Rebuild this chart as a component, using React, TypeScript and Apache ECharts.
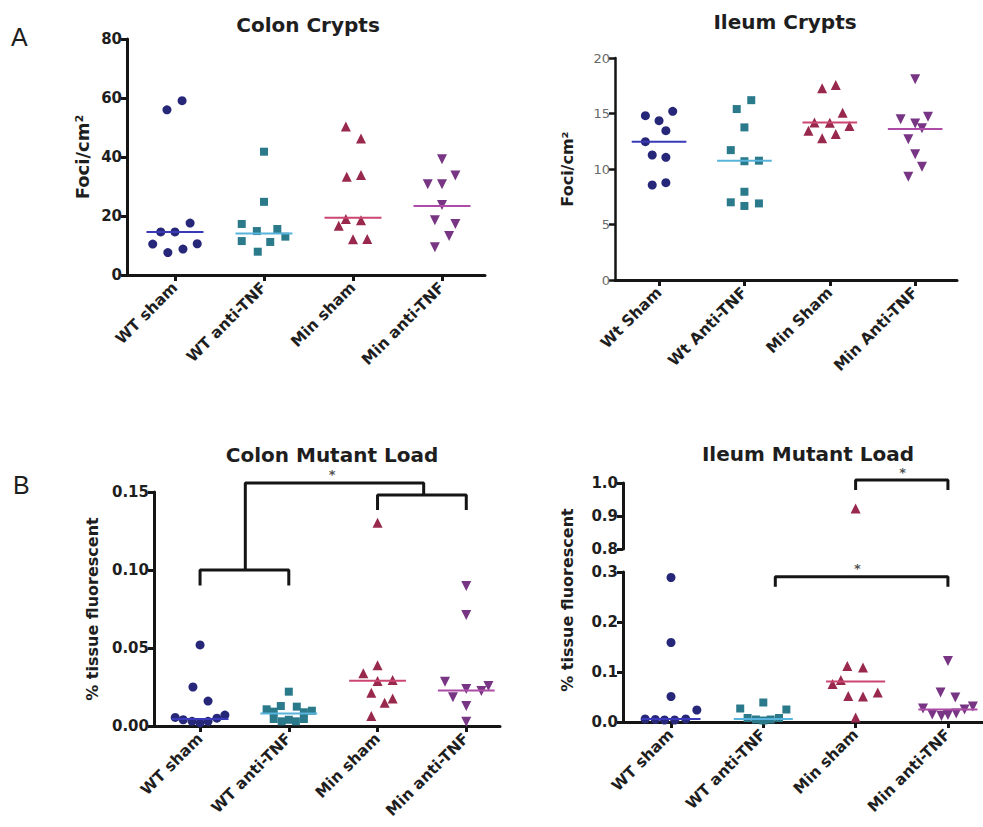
import React, { useEffect, useRef } from 'react';
import * as echarts from 'echarts';

// ---------- categories ----------
const colonGroups = ['WT sham', 'WT anti-TNF', 'Min sham', 'Min anti-TNF'];
const ileumCryptGroups = ['Wt Sham', 'Wt Anti-TNF', 'Min Sham', 'Min Anti-TNF'];

// ---------- Colon Crypts (Foci/cm2) ----------
const colonCryptValues = [
  [56, 59.1, 17.6, 14.6, 14.6, 10.5, 10.6, 7.6, 8.8],
  [41.8, 24.8, 17.3, 14.9, 15.6, 11.5, 11.2, 13.0, 7.9],
  [50.3, 46.3, 33.3, 33.9, 19.0, 18.6, 16.7, 12.1, 12.2],
  [39.2, 30.8, 30.8, 33.7, 23.7, 18.6, 17.3, 13.2, 9.4],
];
const colonCryptJitter = [
  [-0.09, 0.08, 0.17, -0.16, 0, -0.25, 0.25, -0.08, 0.09],
  [0, 0, -0.25, -0.08, 0.15, -0.25, 0.07, 0.24, -0.07],
  [-0.08, 0.09, -0.07, 0.09, -0.08, 0.09, -0.16, 0, 0.16],
  [0, -0.16, 0, 0.15, 0, -0.08, 0.15, 0.08, -0.08],
];
const colonCryptMedians = [14.6, 14.1, 19.4, 23.4];

// ---------- Ileum Crypts (Foci/cm2) ----------
const ileumCryptValues = [
  [14.8, 14.35, 15.2, 13.45, 12.46, 11.26, 11.05, 8.56, 8.77],
  [16.2, 15.4, 13.75, 11.7, 10.7, 10.75, 7.95, 7.0, 6.67, 6.9],
  [17.27, 17.57, 15.07, 14.2, 14.17, 13.87, 13.45, 12.76, 13.15],
  [18.08, 14.48, 14.7, 14.1, 13.66, 12.67, 11.32, 10.2, 9.3],
];
const ileumCryptJitter = [
  [-0.16, 0, 0.16, 0.08, -0.16, -0.08, 0.08, -0.08, 0.08],
  [0.08, -0.09, 0, -0.16, 0, 0.17, 0, -0.16, 0, 0.17],
  [-0.09, 0.07, 0.15, -0.18, 0, 0.23, -0.25, -0.09, 0.07],
  [0, -0.17, 0.15, 0, 0.08, -0.08, 0, 0.08, -0.08],
];
const ileumCryptMedians = [12.46, 10.75, 14.2, 13.6];

// ---------- Colon Mutant Load (% tissue fluorescent) ----------
const colonLoadValues = [
  [0.052, 0.025, 0.016, 0.0055, 0.004, 0.003, 0.002, 0.003, 0.005, 0.007],
  [0.022, 0.0128, 0.0124, 0.0107, 0.0098, 0.0092, 0.0088, 0.0045, 0.004, 0.0045, 0.003, 0.003],
  [0.1303, 0.039, 0.0338, 0.0288, 0.0295, 0.0213, 0.0177, 0.0149, 0.0064],
  [0.0897, 0.0712, 0.0284, 0.0237, 0.0224, 0.0256, 0.0184, 0.0128, 0.0028],
];
const colonLoadJitter = [
  [0, -0.08, 0.09, -0.28, -0.19, -0.09, 0, 0.09, 0.19, 0.28],
  [0, -0.09, 0.09, -0.25, 0.26, -0.17, 0.17, -0.17, 0, 0.17, -0.08, 0.08],
  [0, 0, -0.16, 0, 0.17, -0.07, 0.17, 0.08, -0.07],
  [0, 0, -0.24, 0, 0.17, 0.25, -0.15, 0, 0],
];
const colonLoadMedians = [0.0045, 0.008, 0.029, 0.0227];
const colonLoadBrackets = [
  [[1, 0.09], [1, 0.1], [2, 0.1], [2, 0.09]],
  [[1.51, 0.1], [1.51, 0.1558], [3.52, 0.1558], [3.52, 0.148]],
  [[3, 0.1385], [3, 0.148], [4, 0.148], [4, 0.1385]],
];
const colonLoadStars = [[2.49, 0.1558]];

// ---------- Ileum Mutant Load (% tissue fluorescent, broken axis) ----------
const ileumLoadValues = [
  [0.289, 0.159, 0.051, 0.024, 0.006, 0.005, 0.004, 0.004, 0.006],
  [0.039, 0.027, 0.025, 0.008, 0.005, 0.003, 0.005, 0.008],
  [0.923, 0.112, 0.109, 0.076, 0.084, 0.052, 0.051, 0.059, 0.009],
  [0.122, 0.059, 0.049, 0.027, 0.015, 0.012, 0.014, 0.017, 0.025, 0.031],
];
const ileumLoadJitter = [
  [0, 0, 0, 0.28, -0.28, -0.17, -0.07, 0.04, 0.16],
  [0, -0.25, 0.25, -0.17, -0.08, 0, 0.08, 0.17],
  [0, -0.09, 0.08, -0.25, -0.16, -0.08, 0.08, 0.24, 0],
  [0, -0.08, 0.08, -0.27, -0.17, -0.07, 0, 0.09, 0.18, 0.27],
];
const ileumLoadMedians = [0.006, 0.006, 0.081, 0.025];
const ileumLowerBrackets = [[[2.13, 0.2706], [2.13, 0.2906], [4, 0.2906], [4, 0.2706]]];
const ileumLowerStars = [[3.02, 0.2906]];
const ileumUpperBrackets = [[[3, 0.979], [3, 1.009], [4, 1.009], [4, 0.979]]];
const ileumUpperStars = [[3.51, 1.009]];

// ---------- styles ----------
const pointColors = ['#27277a', '#2a7a8c', '#98284c', '#773584'];
const medianColors = ['#3a3ab8', '#58b4da', '#cc4672', '#ac4ca6'];
const symbols = ['circle', 'rect', 'triangle', 'triangle'];
const symbolRotates = [0, 0, 0, 180];
const symbolSizes = [9, 8, 10, 10];
const FONT = 'DejaVu Sans';
const AXIS_COLOR = '#151515';

function groupSeries(values: number[][], jitter: number[][], medians: number[], xi: number, yi: number, keep: (v: number) => boolean, showMedian: boolean) {
  const out: any[] = [];
  values.forEach((vals, g) => {
    const data = vals
      .map((v, i) => [g + 1 + jitter[g][i], v])
      .filter((d) => keep(d[1]));
    out.push({
      type: 'scatter',
      xAxisIndex: xi,
      yAxisIndex: yi,
      symbol: symbols[g],
      symbolSize: symbolSizes[g],
      symbolRotate: symbolRotates[g],
      itemStyle: { color: pointColors[g], opacity: 1 },
      data,
      z: 2,
    });
  });
  if (showMedian) {
    medians.forEach((m, g) => {
      out.push({
        type: 'line',
        xAxisIndex: xi,
        yAxisIndex: yi,
        data: [[g + 1 - 0.32, m], [g + 1 + 0.32, m]],
        symbol: 'none',
        lineStyle: { color: medianColors[g], width: 2 },
        z: 3,
      });
    });
  }
  return out;
}

function bracketSeries(brackets: number[][][], stars: number[][], xi: number, yi: number) {
  const out: any[] = brackets.map((b) => ({
    type: 'line',
    xAxisIndex: xi,
    yAxisIndex: yi,
    data: b,
    symbol: 'none',
    clip: false,
    lineStyle: { color: AXIS_COLOR, width: 3 },
    z: 4,
  }));
  out.push({
    type: 'scatter',
    xAxisIndex: xi,
    yAxisIndex: yi,
    data: stars,
    symbolSize: 1,
    clip: false,
    itemStyle: { color: 'rgba(0,0,0,0)' },
    label: {
      show: true,
      formatter: '*',
      position: 'top',
      distance: 1,
      fontFamily: FONT,
      fontWeight: 'bold',
      fontSize: 13,
      color: '#222',
    },
    z: 5,
  });
  return out;
}

function xAxisFor(gridIndex: number, min: number, max: number, cats: string[], show = true) {
  return {
    type: 'value',
    gridIndex,
    min,
    max,
    show,
    splitLine: { show: false },
    axisLine: { show: true, onZero: false, lineStyle: { color: AXIS_COLOR, width: 3 } },
    axisTick: { show: true, customValues: [1, 2, 3, 4], length: 6, lineStyle: { color: AXIS_COLOR, width: 3 } },
    axisLabel: {
      customValues: [1, 2, 3, 4],
      rotate: 45,
      margin: 10,
      formatter: (v: number) => cats[Math.round(v) - 1] || '',
      fontFamily: FONT,
      fontWeight: 'bold',
      fontSize: 15.5,
      color: '#1e1e1e',
    },
  };
}

function yAxisFor(gridIndex: number, min: number, max: number, interval: number, digits: number, name: string, nameGap: number, opts: any = {}) {
  return {
    type: 'value',
    gridIndex,
    min,
    max,
    interval,
    name,
    nameLocation: 'middle',
    nameGap,
    nameTextStyle: { fontFamily: FONT, fontWeight: 'bold', fontSize: opts.nameSize || 16, color: '#1e1e1e' },
    splitLine: { show: false },
    axisLine: { show: true, onZero: false, lineStyle: { color: AXIS_COLOR, width: opts.lineWidth || 3 } },
    axisTick: { show: true, length: 6, lineStyle: { color: AXIS_COLOR, width: opts.lineWidth || 3 } },
    axisLabel: {
      margin: 5,
      formatter: (v: number) => v.toFixed(digits),
      fontFamily: FONT,
      fontWeight: opts.labelWeight || 'bold',
      fontSize: opts.labelSize || 15,
      color: opts.labelColor || '#1e1e1e',
    },
  };
}

export default function App() {
  const ref = useRef<HTMLDivElement>(null);

  useEffect(() => {
    if (!ref.current) return;
    const chart = echarts.init(ref.current, undefined, { renderer: 'svg' });

    const titleStyle = (text: string, x: number, y: number) => ({
      type: 'text',
      x,
      y,
      style: {
        text,
        fontFamily: FONT,
        fontWeight: 'bold',
        fontSize: 20,
        fill: '#1e1e1e',
        textAlign: 'center',
        textVerticalAlign: 'middle',
      },
    });

    const option: any = {
      animation: false,
      backgroundColor: '#ffffff',
      grid: [
        { left: 127, top: 39, width: 358, height: 236 },
        { left: 615, top: 58, width: 342, height: 222 },
        { left: 154, top: 492, width: 346, height: 234 },
        { left: 623, top: 572, width: 360, height: 150 },
        { left: 623, top: 483, width: 360, height: 66 },
      ],
      xAxis: [
        xAxisFor(0, 0.461, 4.483, colonGroups),
        xAxisFor(1, 0.484, 4.49, ileumCryptGroups),
        xAxisFor(2, 0.481, 4.38, colonGroups),
        xAxisFor(3, 0.48, 4.38, colonGroups),
        xAxisFor(4, 0.48, 4.38, colonGroups, false),
      ],
      yAxis: [
        yAxisFor(0, 0, 80, 20, 0, 'Foci/cm²', 36, { nameSize: 18 }),
        yAxisFor(1, 0, 20, 5, 0, 'Foci/cm²', 40, { nameSize: 16, labelWeight: 'normal', labelColor: '#6a6a6a', labelSize: 13, lineWidth: 2.5 }),
        yAxisFor(2, 0, 0.15, 0.05, 2, '% tissue fluorescent', 54),
        yAxisFor(3, 0, 0.3, 0.1, 1, '', 40),
        yAxisFor(4, 0.8, 1.0, 0.1, 1, '', 40),
      ],
      graphic: [
        {
          type: 'text',
          x: 11,
          y: 37,
          style: { text: 'A', fontFamily: 'Liberation Sans', fontSize: 25, fill: '#1e1e1e', textAlign: 'left', textVerticalAlign: 'middle' },
        },
        {
          type: 'text',
          x: 13,
          y: 485,
          style: { text: 'B', fontFamily: 'Liberation Sans', fontSize: 25, fill: '#1e1e1e', textAlign: 'left', textVerticalAlign: 'middle' },
        },
        titleStyle('Colon Crypts', 308, 25),
        titleStyle('Ileum Crypts', 785, 22),
        titleStyle('Colon Mutant Load', 332, 455),
        titleStyle('Ileum Mutant Load', 808, 454),
        {
          type: 'text',
          x: 567,
          y: 600,
          rotation: Math.PI / 2,
          style: {
            text: '% tissue fluorescent',
            fontFamily: FONT,
            fontWeight: 'bold',
            fontSize: 16,
            fill: '#1e1e1e',
            textAlign: 'center',
            textVerticalAlign: 'middle',
          },
        },
      ],
      series: [
        ...groupSeries(colonCryptValues, colonCryptJitter, colonCryptMedians, 0, 0, () => true, true),
        ...groupSeries(ileumCryptValues, ileumCryptJitter, ileumCryptMedians, 1, 1, () => true, true),
        ...groupSeries(colonLoadValues, colonLoadJitter, colonLoadMedians, 2, 2, () => true, true),
        ...bracketSeries(colonLoadBrackets, colonLoadStars, 2, 2),
        ...groupSeries(ileumLoadValues, ileumLoadJitter, ileumLoadMedians, 3, 3, (v) => v <= 0.3, true),
        ...groupSeries(ileumLoadValues, ileumLoadJitter, ileumLoadMedians, 4, 4, (v) => v >= 0.8, false),
        ...bracketSeries(ileumLowerBrackets, ileumLowerStars, 3, 3),
        ...bracketSeries(ileumUpperBrackets, ileumUpperStars, 4, 4),
      ],
    };

    chart.setOption(option);
    return () => chart.dispose();
  }, []);

  return (
    <div
      ref={ref}
      style={{ position: 'absolute', left: 0, top: 0, width: 983, height: 827, background: '#fff' }}
    />
  );
}
